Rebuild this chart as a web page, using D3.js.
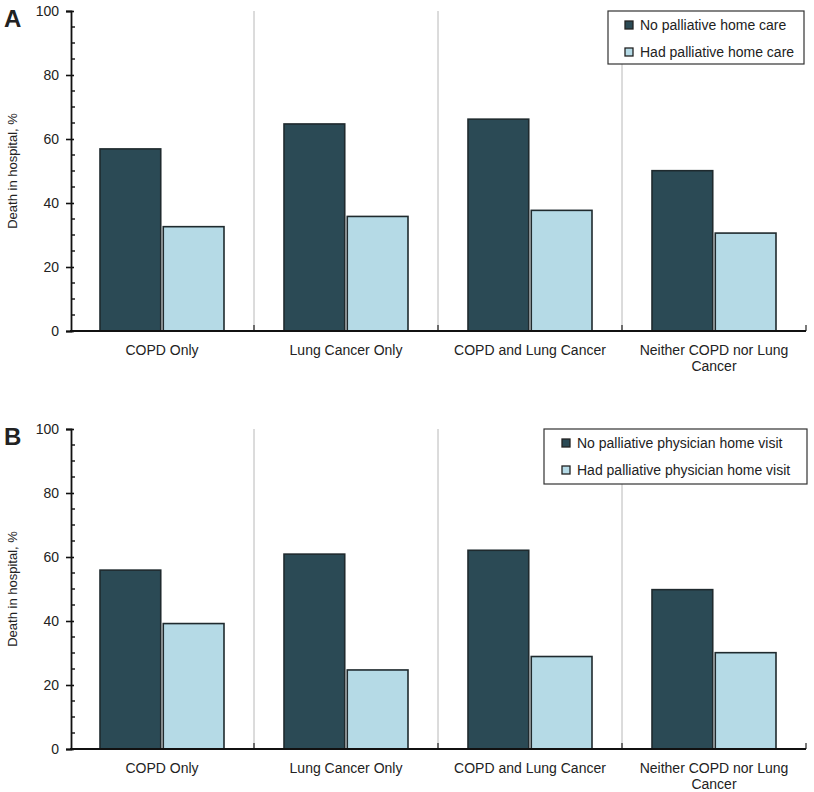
<!DOCTYPE html>
<html>
<head>
<meta charset="utf-8">
<script src="https://cdn.jsdelivr.net/npm/d3@7"></script>
<style>
body{margin:0;background:#fff;}
text{font-family:"Liberation Sans",Arial,Helvetica,sans-serif;fill:#222;}
</style>
</head>
<body>
<svg id="chart" width="814" height="792"></svg>
<script>
const categories = ["COPD Only","Lung Cancer Only","COPD and Lung Cancer","Neither COPD nor Lung Cancer"];
const categoryLines = [["COPD Only"],["Lung Cancer Only"],["COPD and Lung Cancer"],["Neither COPD nor Lung","Cancer"]];
const seriesKeys = ["no","had"];
const colors = ["#2b4a55","#b5dae6"];
const legendA = ["No palliative home care","Had palliative home care"];
const legendB = ["No palliative physician home visit","Had palliative physician home visit"];
const noHomeCareA = [56.9, 64.7, 66.2, 50.1];
const hadHomeCareA = [32.6, 35.8, 37.7, 30.6];
const noVisitB = [55.9, 60.9, 62.1, 49.8];
const hadVisitB = [39.2, 24.7, 28.9, 30.1];
const yTicks = [0,20,40,60,80,100];
const yMinorTicks = d3.range(0,101,5);
const yTitle = "Death in hospital, %";

const svg = d3.select("#chart");

function panel(opts){
  const {top, letter, no, had, legend, legendBox} = opts;
  const g = svg.append("g");
  const x0 = d3.scaleBand().domain(categories).range([70,806]).paddingInner(0).paddingOuter(0);
  const x1 = d3.scaleBand().domain(seriesKeys).range([30,154]).paddingInner(0.04);
  const y = d3.scaleLinear().domain([0,100]).range([top+320, top]);
  const vals = [no, had];

  g.selectAll("line.sep").data(categories.slice(1)).enter().append("line")
    .attr("x1",d=>x0(d)).attr("x2",d=>x0(d))
    .attr("y1",y(100)).attr("y2",y(0))
    .attr("stroke","#b8b8b8").attr("stroke-width",1);
  const bounds = categories.slice(1).map(d=>x0(d)).concat([x0.range()[1]]);
  g.selectAll("line.bt").data(bounds).enter().append("line")
    .attr("x1",d=>d).attr("x2",d=>d).attr("y1",y(0)-6).attr("y2",y(0))
    .attr("stroke","#222").attr("stroke-width",1.2);

  categories.forEach((c,i)=>{
    seriesKeys.forEach((k,j)=>{
      g.append("rect")
        .attr("x",x0(c)+x1(k)).attr("width",x1.bandwidth())
        .attr("y",y(vals[j][i])).attr("height",y(0)-y(vals[j][i]))
        .attr("fill",colors[j]).attr("stroke","#1f2a2e").attr("stroke-width",1.6);
    });
  });

  const yAxis = d3.axisLeft(y).tickValues(yTicks).tickSize(5).tickPadding(7);
  const ya = g.append("g").attr("transform","translate(71,0)").call(yAxis);
  ya.select(".domain").attr("stroke","#111").attr("stroke-width",1.8);
  ya.selectAll(".tick line").attr("stroke","#111").attr("stroke-width",1.6).attr("x1",3);
  ya.selectAll(".tick text").style("font-size","14px").attr("fill","#222")
    .style("font-family","Liberation Sans, Arial, sans-serif");
  g.selectAll("line.minor").data(yMinorTicks.filter(v=>v%20!==0)).enter().append("line")
    .attr("x1",71).attr("x2",75).attr("y1",d=>y(d)).attr("y2",d=>y(d))
    .attr("stroke","#111").attr("stroke-width",1.4);

  g.append("line").attr("x1",70).attr("x2",806).attr("y1",y(0)).attr("y2",y(0))
    .attr("stroke","#111").attr("stroke-width",2);

  categories.forEach((c,i)=>{
    const t = g.append("text").attr("text-anchor","middle")
      .attr("x",x0(c)+x0.bandwidth()/2).attr("y",y(0)+24)
      .style("font-size","14px");
    categoryLines[i].forEach((ln,k)=>{
      t.append("tspan").attr("x",x0(c)+x0.bandwidth()/2).attr("dy",k===0?0:16).text(ln);
    });
  });

  g.append("text").attr("transform",`translate(17,${top+160}) rotate(-90)`)
    .attr("text-anchor","middle").style("font-size","13px").text(yTitle);

  g.append("text").attr("x",4).attr("y",top+16).style("font-size","24px")
    .style("font-weight","bold").attr("fill","#111").text(letter);

  const lb = legendBox;
  g.append("rect").attr("x",lb.x).attr("y",lb.y).attr("width",lb.w).attr("height",lb.h)
    .attr("fill","#fff").attr("stroke","#333").attr("stroke-width",1.2);
  legend.forEach((lab,j)=>{
    const cy = lb.y + 14 + j*27;
    g.append("rect").attr("x",lb.x+lb.mx).attr("y",cy-4).attr("width",8).attr("height",8)
      .attr("fill",colors[j]).attr("stroke","#222").attr("stroke-width",1.3);
    g.append("text").attr("x",lb.x+lb.mx+15).attr("y",cy+5).style("font-size","14px").text(lab);
  });
}

panel({top:11, letter:"A", no:noHomeCareA, had:hadHomeCareA, legend:legendA,
  legendBox:{x:608,y:11,w:196,h:53,mx:17}});
panel({top:429, letter:"B", no:noVisitB, had:hadVisitB, legend:legendB,
  legendBox:{x:544,y:429,w:263,h:55,mx:18}});
</script>
</body>
</html>
